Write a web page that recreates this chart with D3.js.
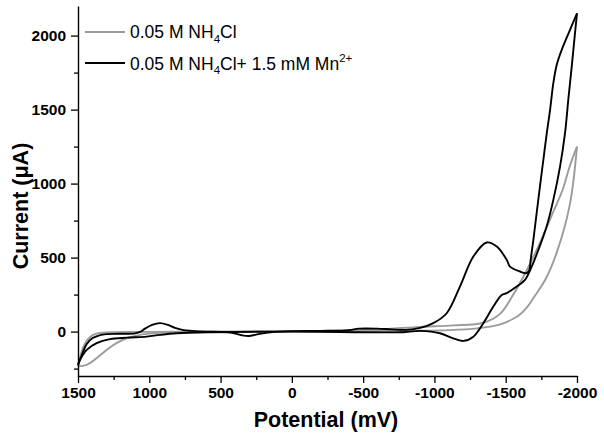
<!DOCTYPE html>
<html>
<head>
<meta charset="utf-8">
<script src="https://cdn.jsdelivr.net/npm/d3@7"></script>
<style>
  html, body { margin: 0; padding: 0; background: #fff; }
  svg { display: block; font-family: "Liberation Sans", Arial, sans-serif; }
</style>
</head>
<body>
<svg id="chart" width="604" height="439"></svg>
<script>
// ---- data ----
const xMajorTicks = [1500, 1000, 500, 0, -500, -1000, -1500, -2000];
const xMinorTicks = [1250, 750, 250, -250, -750, -1250, -1750];
const yMajorTicks = [0, 500, 1000, 1500, 2000];
const yMinorTicks = [-250, 250, 750, 1250, 1750];

const seriesNames = ["0.05 M NH4Cl", "0.05 M NH4Cl+ 1.5 mM Mn2+"];

// 0.05 M NH4Cl (grey) – cathodic sweep
const greyFwdE = [1500, 1440, 1370, 1300, 1230, 1160, 1065, 970, 850, 600, 300, 0, -300, -600, -900, -1100, -1300, -1450, -1550, -1600, -1650, -1700, -1780, -1860, -1950, -2000];
const greyFwdI = [-235, -225, -180, -124, -78, -45, -22, -11, -3, 0, 0, 0, 2, 4, 6, 10, 22, 45, 85, 115, 165, 235, 355, 540, 860, 1250];
// 0.05 M NH4Cl (grey) – anodic sweep
const greyRevE = [-2000, -1950, -1900, -1834, -1740, -1650, -1553, -1460, -1343, -1133, -900, -600, -300, 0, 300, 600, 1000, 1300, 1393, 1451, 1500];
const greyRevI = [1250, 1120, 960, 810, 600, 420, 250, 120, 60, 42, 32, 15, 6, 2, 0, 0, -2, -6, -22, -80, -235];

// 0.05 M NH4Cl + 1.5 mM Mn2+ (black) – cathodic sweep
const blackFwdE = [1500, 1486, 1439, 1369, 1276, 1158, 1018, 925, 808, 574, 0, -780, -900, -1039, -1123, -1203, -1273, -1343, -1413, -1472, -1507, -1577, -1635, -1682, -1729, -1787, -1834, -1881, -1916, -1939, -1963, -1986, -2000];
const blackFwdI = [-225, -191, -123, -78, -51, -41, -34, -22, -11, -4, 0, -4, 5, -11, -43, -63, -34, 57, 169, 248, 260, 304, 350, 439, 552, 710, 890, 1115, 1341, 1567, 1791, 2017, 2150];
// 0.05 M NH4Cl + 1.5 mM Mn2+ (black) – anodic sweep
const blackRevE = [-2000, -1951, -1893, -1858, -1834, -1811, -1788, -1764, -1740, -1717, -1694, -1675, -1666, -1647, -1600, -1530, -1507, -1437, -1367, -1273, -1179, -1086, -992, -900, -800, -700, -600, -470, -400, -200, 0, 150, 250, 300, 350, 420, 500, 600, 700, 760, 820, 870, 925, 980, 1030, 1060, 1100, 1200, 1300, 1350, 1400, 1440, 1470, 1500];
const blackRevI = [2150, 2039, 1904, 1803, 1679, 1497, 1341, 1161, 980, 800, 620, 485, 417, 395, 406, 439, 485, 575, 602, 507, 304, 124, 57, 25, 12, 15, 20, 20, 10, 5, 3, -5, -20, -30, -25, -8, -2, 0, 5, 10, 25, 45, 57, 45, 20, 0, -12, -15, -17, -25, -45, -85, -150, -225];

// ---- layout ----
const svg = d3.select("#chart");
const x = d3.scaleLinear().domain([1500, -2000]).range([78, 577]);
const y = d3.scaleLinear().domain([-300, 2200]).range([376, 6]);

const zip = (E, I) => E.map((e, i) => [e, I[i]]);
const lineGen = d3.line().x(d => x(d[0])).y(d => y(d[1])).curve(d3.curveCatmullRom.alpha(0.5));

const grey = "#9b9b9b";
const black = "#000";

// curves
[[greyFwdE, greyFwdI, grey], [greyRevE, greyRevI, grey], [blackFwdE, blackFwdI, black], [blackRevE, blackRevI, black]]
  .forEach(([E, I, c]) => {
    svg.append("path")
      .attr("d", lineGen(zip(E, I)))
      .attr("fill", "none")
      .attr("stroke", c)
      .attr("stroke-width", 1.9)
      .attr("stroke-linejoin", "round");
  });

// axes
const fmt = d => String(d);
svg.append("g").attr("transform", `translate(0,${y.range()[0]})`)
  .call(d3.axisBottom(x).tickValues(xMajorTicks).tickSize(7).tickSizeOuter(0).tickPadding(4).tickFormat(fmt));
svg.append("g").attr("transform", `translate(0,${y.range()[0]})`)
  .call(d3.axisBottom(x).tickValues(xMinorTicks).tickSize(4).tickSizeOuter(0).tickFormat(""))
  .select(".domain").remove();
svg.append("g").attr("transform", `translate(${x.range()[0]},0)`)
  .call(d3.axisLeft(y).tickValues(yMajorTicks).tickSize(7).tickSizeOuter(0).tickPadding(5).tickFormat(fmt));
svg.append("g").attr("transform", `translate(${x.range()[0]},0)`)
  .call(d3.axisLeft(y).tickValues(yMinorTicks).tickSize(4).tickSizeOuter(0).tickFormat(""))
  .select(".domain").remove();

svg.selectAll(".domain").attr("stroke", "#000").attr("stroke-width", 1.4);
svg.selectAll(".tick line").attr("stroke", "#000").attr("stroke-width", 1.3);
svg.selectAll(".tick text")
  .attr("font-family", "Liberation Sans, Arial, sans-serif")
  .attr("font-size", 15.5).attr("font-weight", "bold").attr("fill", "#000");

// axis titles
svg.append("text")
  .attr("x", 326).attr("y", 427)
  .attr("text-anchor", "middle")
  .attr("font-size", 21.5).attr("font-weight", "bold")
  .text("Potential (mV)");
svg.append("text")
  .attr("transform", "translate(28,206) rotate(-90)")
  .attr("text-anchor", "middle")
  .attr("font-size", 21.5).attr("font-weight", "bold")
  .text("Current (μA)");

// legend
const legend = svg.append("g");
const legRows = [
  { c: grey, ly: 32, ty: 38, parts: [["0.05 M NH", ""], ["4", "sub"], ["Cl", ""]] },
  { c: black, ly: 63, ty: 69.5, parts: [["0.05 M NH", ""], ["4", "sub"], ["Cl+ 1.5 mM Mn", ""], ["2+", "sup"]] }
];
legRows.forEach((r, i) => {
  legend.append("line").attr("x1", 85).attr("x2", 125).attr("y1", r.ly).attr("y2", r.ly)
    .attr("stroke", r.c).attr("stroke-width", 1.9);
  const t = legend.append("text").attr("x", 130).attr("y", r.ty).attr("font-size", 17.5).attr("fill", "#000")
    .attr("data-series", seriesNames[i]);
  r.parts.forEach(([s, k], j) => {
    const prev = j > 0 ? r.parts[j - 1][1] : "";
    let dy = 0;
    if (k === "sub") dy = 4.5; else if (k === "sup") dy = -8;
    if (prev === "sub") dy -= 4.5; else if (prev === "sup") dy += 8;
    const ts = t.append("tspan").attr("dy", dy).text(s);
    if (k === "sub" || k === "sup") ts.attr("font-size", 11.5);
  });
});
</script>
</body>
</html>
